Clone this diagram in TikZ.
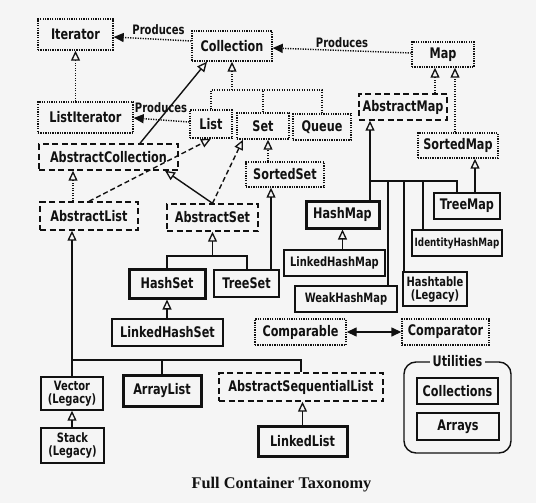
\documentclass[tikz,border=0pt]{standalone}
\usepackage{fontspec}
\setmainfont{DejaVu Sans}[FakeStretch=0.9,BoldFont=DejaVu Sans Bold,BoldFeatures={FakeStretch=0.77}]
\newfontfamily\capfont{Liberation Serif}
\usetikzlibrary{arrows.meta}
\definecolor{bg}{HTML}{F5F5F5}
\definecolor{ink}{HTML}{111111}
\tikzset{
 box/.style={draw=ink, text=ink, inner sep=0pt, line width=1.4pt, font=\bfseries\fontsize{14.6}{15.5}\selectfont, align=center},
 iface/.style={box, dash pattern=on 1.3pt off 1.1pt},
 abstr/.style={box, dash pattern=on 6pt off 3.5pt},
 conc/.style={box},
 mainbox/.style={box, line width=3pt},
 sz/.style 2 args={minimum width=#1pt, minimum height=#2pt},
 small/.style={font=\bfseries\fontsize{12.9}{13}\selectfont},
 conn/.style={draw=ink, line width=1.4pt},
 dotconn/.style={conn, dash pattern=on 1.2pt off 1.3pt},
 dashconn/.style={conn, dash pattern=on 5pt off 3pt},
 inh/.style={-{Triangle[open, length=10pt, width=9pt, line width=1.3pt]}},
 prod/.style={-{Triangle[length=10pt, width=9pt]}},
 lbl/.style={text=ink, font=\bfseries\fontsize{13}{14}\selectfont, inner sep=0pt},
}
\begin{document}
\begin{tikzpicture}[x=1pt,y=-1pt]
\fill[bg] (0,0) rectangle (536,503);
\useasboundingbox (0,0) rectangle (536,503);
% nodes
\node[iface, sz={75}{31}] (it) at (75.5,34.5) {Iterator};
\node[iface, sz={80}{30}] (col) at (232,46) {Collection};
\node[iface, sz={62}{25}] (map) at (443,54.5) {Map};
\node[iface, sz={95}{31}] (lit) at (85.5,117.5) {ListIterator};
\node[iface, sz={42}{28}] (list) at (211,124) {List};
\node[iface, sz={52}{26}] (set) at (263,126) {Set};
\node[iface, sz={58}{26}] (queue) at (322,127) {Queue};
\node[abstr, sz={88}{26}] (amap) at (403,107) {AbstractMap};
\node[iface, sz={80}{25}] (smap) at (458,145.5) {SortedMap};
\node[abstr, sz={139}{26}] (acol) at (108.5,157) {AbstractCollection};
\node[iface, sz={78}{25}] (sset) at (285,174.5) {SortedSet};
\node[abstr, sz={98}{28}] (alist) at (89,216) {AbstractList};
\node[abstr, sz={91}{27}] (aset) at (212.5,217.5) {AbstractSet};
\node[mainbox, sz={73}{27}] (hmap) at (342.5,214.5) {HashMap};
\node[conc, sz={66}{26}] (tmap) at (467,206) {TreeMap};
\node[conc, sz={90}{26}, font=\bfseries\fontsize{11.4}{12}\selectfont] (ihm) at (457,243) {IdentityHashMap};
\node[conc, sz={101}{26}, small] (lhm) at (334.5,263) {LinkedHashMap};
\node[mainbox, sz={76}{29}] (hset) at (167,283.5) {HashSet};
\node[conc, sz={65}{27}] (tset) at (246.5,283.5) {TreeSet};
\node[conc, sz={102}{26}, small] (whm) at (346,299) {WeakHashMap};
\node[conc, sz={64}{34}, small] (htab) at (435,289) {Hashtable\\(Legacy)};
\node[conc, sz={111}{27}] (lhs) at (167.5,332.5) {LinkedHashSet};
\node[iface, sz={91}{26}] (cmpb) at (300.5,332) {Comparable};
\node[iface, sz={87}{26}] (cmpt) at (445.5,332) {Comparator};
\node[conc, sz={62}{33}, small] (vec) at (72,393.5) {Vector\\(Legacy)};
\node[mainbox, sz={78}{31}] (alst) at (162,390.5) {ArrayList};
\node[abstr, sz={164}{28}] (asl) at (301,387) {AbstractSequentialList};
\node[conc, sz={63}{35}, small] (stk) at (72.5,445.5) {Stack\\(Legacy)};
\node[mainbox, sz={89}{30}] (llist) at (302.5,441) {LinkedList};
\node[draw=ink, line width=1.4pt, rounded corners=12pt, sz={107}{91}] (util) at (457.5,407.5) {};
\node[fill=bg, text=ink, inner sep=2.5pt, font=\bfseries\fontsize{14.6}{16}\selectfont] (utl) at (util.north) {Utilities};
\node[conc, sz={81}{26}] (colls) at (457.5,391) {Collections};
\node[conc, sz={82}{27}] (arrs) at (458,426.5) {Arrays};
\node[text=ink, inner sep=0pt, font=\capfont\bfseries\fontsize{16.3}{18}\selectfont] (cap) at (281.5,485) {Full Container Taxonomy};
% produces
\node[lbl] (p1) at (158.5,30) {Produces};
\node[lbl] (p2) at (161,108) {Produces};
\node[lbl] (p3) at (342,43) {Produces};
\draw[dotconn, prod] ([yshift=5pt]col.west) -- ([yshift=-2.5pt]it.east);
\draw[dotconn, prod] ([yshift=2pt]list.west) -- ([yshift=-0.5pt]lit.east);
\draw[dotconn, prod] ([yshift=1.5pt]map.west) -- ([yshift=-2pt]col.east);
% iterator
\draw[dotconn, inh] (it.south |- lit.north) -- (it.south);
% collection tree
\coordinate (cbar) at (232,90);
\draw[dotconn, inh] (cbar) -- (col.south);
\draw[dotconn] (list.north) |- (cbar) -| (queue.north);
\draw[dotconn] (set.north) -- (set.north |- cbar);
% abstract collection etc.
\draw[conn, inh] ([xshift=31.5pt]acol.north) -- ([xshift=-25pt]col.south);
\draw[dashconn, inh] (alist.north) -- (list.south);
\draw[dotconn, inh] ([xshift=-16pt]alist.north) -- ([xshift=-35.5pt]acol.south);
\draw[conn, inh] (aset.north) -- ([xshift=56.5pt]acol.south);
\draw[dashconn, inh] (aset.north) -- ([xshift=-20pt]set.south);
\draw[dotconn, inh] ([xshift=-17pt]sset.north) -- ([xshift=5pt]set.south);
\draw[conn, inh] ([xshift=24.5pt]tset.north) -- ([xshift=-14pt]sset.south);
% abstract set tree
\coordinate (asbar) at (212.5,256);
\draw[conn, inh] (asbar) -- (aset.south);
\draw[conn] (hset.north) |- (asbar) -| ([xshift=0.5pt]tset.north);
\draw[conn, inh] (hset.south |- lhs.north) -- (hset.south);
% abstract list tree
\coordinate (albar) at (72,360);
\draw[conn, inh] (vec.north) -- (alist.south -| vec.north);
\draw[conn] (albar) -| (asl.north);
\draw[conn] (alst.north) -- (alst.north |- albar);
\draw[conn, inh] (vec.south |- stk.north) -- (vec.south);
\draw[conn, inh] (llist.north) -- (llist.north |- asl.south);
% map side
\draw[dotconn, inh] ([xshift=32pt]amap.north) -- ([xshift=-8pt]map.south);
\draw[dotconn, inh] ([xshift=-3pt]smap.north) -- ([xshift=12pt]map.south);
\coordinate (ambar) at (370,181);
\draw[conn, inh] ([xshift=27.5pt]hmap.north) -- ([xshift=-33pt]amap.south);
\draw[conn] (ambar) -| ([xshift=-10pt]tmap.north);
\draw[conn] ([xshift=42pt]whm.north) |- (ambar);
\draw[conn] ([xshift=-31pt]htab.north) |- (ambar);
\draw[conn] ([xshift=-34pt]ihm.north) |- (ambar);
\draw[conn, inh] ([xshift=8pt]tmap.north) -- ([xshift=17pt]smap.south);
\draw[conn, inh] (hmap.south |- lhm.north) -- (hmap.south);
% comparable
\draw[conn, {Triangle[length=10pt,width=9pt]}-{Triangle[length=10pt,width=9pt]}] (cmpb.east) -- (cmpt.west);
\end{tikzpicture}
\end{document}
